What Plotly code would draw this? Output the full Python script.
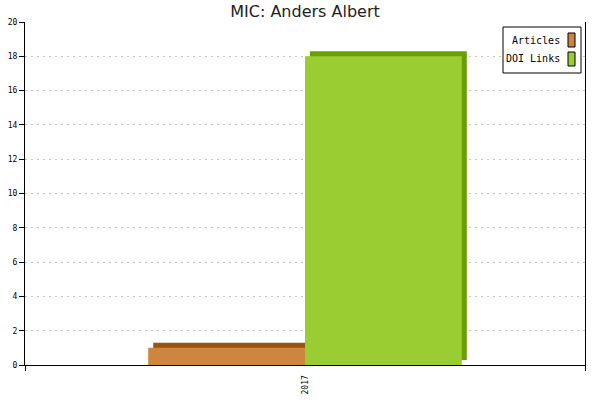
import plotly.graph_objects as go

categories = ["2017"]
articles = [1]
doi_links = [18]
series_names = ["Articles", "DOI Links"]

front_colors = ["#CD853F", "#9ACD32"]
dark_colors = ["#9C5414", "#6B9E00"]

W, H = 600, 400
ml, mr, mt, mb = 25, 15, 22, 35
pw, ph = W - ml - mr, H - mt - mb
ymax = 20
bw = 0.28
dx = 5 / pw
dy = 5 / ph * ymax

fig = go.Figure()
for vals, off, name, fc, dc in [
    (articles, -bw, series_names[0], front_colors[0], dark_colors[0]),
    (doi_links, 0.0, series_names[1], front_colors[1], dark_colors[1]),
]:
    fig.add_trace(go.Bar(x=categories, y=vals, base=dy, offset=off + dx, width=bw,
                         marker=dict(color=dc, line=dict(width=0)), showlegend=False,
                         hoverinfo="skip"))
    fig.add_trace(go.Bar(x=categories, y=vals, offset=off, width=bw, name=name,
                         marker=dict(color=fc, line=dict(width=0)), showlegend=False))

# legend box (custom, swatches on the right)
def px2x(p):
    return (p - ml) / pw
def px2y(p):
    return (H - mb - p) / ph

shapes = [dict(type="rect", xref="paper", yref="paper",
               x0=px2x(503), x1=px2x(581), y0=px2y(73), y1=px2y(27),
               line=dict(color="black", width=1), fillcolor="white", layer="above")]
annotations = []
for i, (name, col) in enumerate(zip(series_names, front_colors)):
    top = 33 + i * 19
    shapes.append(dict(type="rect", xref="paper", yref="paper",
                       x0=px2x(568), x1=px2x(575), y0=px2y(top + 14), y1=px2y(top),
                       line=dict(color="black", width=1), fillcolor=col, layer="above"))
    annotations.append(dict(xref="paper", yref="paper", x=px2x(562), y=px2y(top + 7),
                            text=name, showarrow=False, xanchor="right", yanchor="middle",
                            font=dict(family="DejaVu Sans Mono", size=10, color="black")))

fig.update_layout(
    width=W, height=H,
    margin=dict(l=ml, r=mr, t=mt, b=mb, autoexpand=False),
    paper_bgcolor="white", plot_bgcolor="white",
    barmode="overlay",
    title=dict(text="MIC: Anders Albert", x=(ml + pw / 2) / W, xanchor="center",
               y=1 - 11 / H, yanchor="middle",
               font=dict(family="DejaVu Sans", size=16, color="#222")),
    shapes=shapes, annotations=annotations,
    showlegend=False,
)
fig.update_xaxes(type="category", range=[-0.5, 0.5], showline=True, linecolor="black",
                 linewidth=1, ticks="outside", tickson="boundaries", ticklen=5,
                 tickcolor="black", tickangle=-90, showgrid=False, zeroline=False,
                 automargin=False, ticklabelstandoff=6,
                 tickfont=dict(family="DejaVu Sans Mono", size=8, color="black"))
fig.update_yaxes(range=[0, ymax], dtick=2, showline=True, linecolor="black", linewidth=1,
                 mirror=True, ticks="outside", ticklen=5, tickcolor="black",
                 showgrid=True, gridcolor="#c4c4c4", griddash="2px,4px", gridwidth=1,
                 zeroline=False, automargin=False,
                 tickfont=dict(family="DejaVu Sans Mono", size=8, color="black"))

fig.write_html("out.html", config={"displayModeBar": False},
               post_script="document.body.style.margin='0';")
